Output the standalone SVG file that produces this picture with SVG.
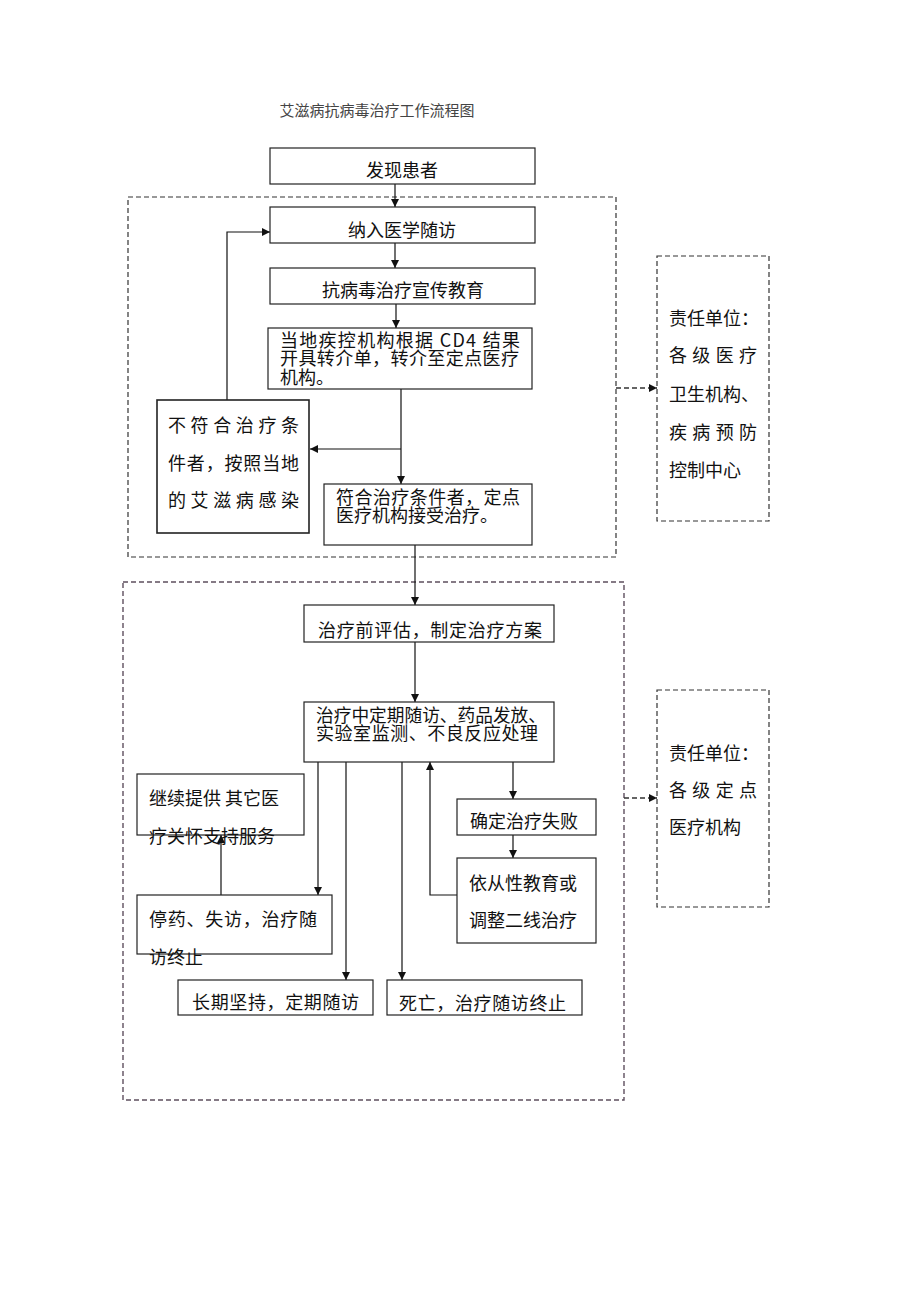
<svg xmlns="http://www.w3.org/2000/svg" width="920" height="1302" viewBox="0 0 920 1302">
<style>
  text { font-family: "Noto Sans CJK SC", "Noto Sans", sans-serif; font-size: 18px; fill: #111; }
  .title { font-size: 15px; fill: #444; }
  .box { fill: #fff; stroke: #222; stroke-width: 1.2; }
  .dbox { fill: none; stroke: #333; stroke-width: 1.2; stroke-dasharray: 5 3; }
  .dbox2 { fill: none; stroke: #5e4f5e; stroke-width: 1.4; stroke-dasharray: 5 3; }
  .ln { fill: none; stroke: #111; stroke-width: 1.2; }
  .dln { fill: none; stroke: #333; stroke-width: 1.4; stroke-dasharray: 5 3; }
  .c { text-anchor: middle; }
</style>
<defs>
  <marker id="ah" markerUnits="userSpaceOnUse" markerWidth="9" markerHeight="9" refX="8" refY="4" orient="auto">
    <path d="M0,0 L8,4 L0,8 z" fill="#111"/>
  </marker>
</defs>
<rect width="920" height="1302" fill="#fff"/>

<text class="title c" x="377" y="116">艾滋病抗病毒治疗工作流程图</text>

<g id="regions">
  <rect class="dbox" x="128" y="197" width="488" height="360"/>
  <rect class="dbox2" x="123" y="582" width="501" height="518"/>
</g>

<g id="connectors">
  <path class="ln" d="M395,184 V207" marker-end="url(#ah)"/>
  <path class="ln" d="M395,243 V268" marker-end="url(#ah)"/>
  <path class="ln" d="M396,304 V328" marker-end="url(#ah)"/>
  <path class="ln" d="M401,389 V484" marker-end="url(#ah)"/>
  <path class="ln" d="M401,449 H310" marker-end="url(#ah)"/>
  <path class="ln" d="M227,400 V232 H270" marker-end="url(#ah)"/>
  <path class="ln" d="M415,545 V605" marker-end="url(#ah)"/>
  <path class="ln" d="M415,642 V702" marker-end="url(#ah)"/>
  <path class="ln" d="M318,762 V895" marker-end="url(#ah)"/>
  <path class="ln" d="M346,762 V980" marker-end="url(#ah)"/>
  <path class="ln" d="M402,762 V980" marker-end="url(#ah)"/>
  <path class="ln" d="M457,895 H430 V762" marker-end="url(#ah)"/>
  <path class="ln" d="M513,762 V799" marker-end="url(#ah)"/>
  <path class="ln" d="M513,835 V858" marker-end="url(#ah)"/>
  <path class="ln" d="M221,895 V835" marker-end="url(#ah)"/>
  <path class="dln" d="M616,388 H657" marker-end="url(#ah)"/>
  <path class="dln" d="M624,798 H657" marker-end="url(#ah)"/>
</g>

<g id="n-faxian">
  <rect class="box" x="270" y="148" width="265" height="36"/>
  <text class="c" x="402" y="177">发现患者</text>
</g>
<g id="n-nariu">
  <rect class="box" x="270" y="207" width="265" height="36"/>
  <text class="c" x="402" y="237">纳入医学随访</text>
</g>
<g id="n-jiaoyu">
  <rect class="box" x="270" y="268" width="265" height="36"/>
  <text class="c" x="403" y="297">抗病毒治疗宣传教育</text>
</g>
<g id="n-zhuanjie">
  <rect class="box" x="268" y="328" width="264" height="61"/>
  <text x="280" y="347"><tspan x="280" y="347" textLength="240" lengthAdjust="spacing">当地疾控机构根据 CD4 结果</tspan><tspan x="280" y="365" textLength="239" lengthAdjust="spacing">开具转介单，转介至定点医疗</tspan><tspan x="280" y="384">机构。</tspan></text>
</g>
<g id="n-bufuhe">
  <rect class="box" x="157" y="400" width="152" height="133" style="stroke-width:1.6"/>
  <text x="168" y="432" textLength="131" lengthAdjust="spacing">不符合治疗条</text>
  <text x="168" y="470" textLength="131" lengthAdjust="spacing">件者，按照当地</text>
  <text x="168" y="507" textLength="131" lengthAdjust="spacing">的艾滋病感染</text>
</g>
<g id="n-fuhe">
  <rect class="box" x="324" y="484" width="208" height="61"/>
  <text x="336" y="504"><tspan x="336" y="504" textLength="184" lengthAdjust="spacing">符合治疗条件者，定点</tspan><tspan x="336" y="522">医疗机构接受治疗。</tspan></text>
</g>
<g id="n-resp1">
  <rect class="dbox" x="657" y="256" width="112" height="265"/>
  <text x="669" y="325">责任单位：</text>
  <text x="669" y="362" textLength="88" lengthAdjust="spacing">各级医疗</text>
  <text x="669" y="401">卫生机构、</text>
  <text x="669" y="439" textLength="88" lengthAdjust="spacing">疾病预防</text>
  <text x="669" y="477">控制中心</text>
</g>
<g id="n-pinggu">
  <rect class="box" x="304" y="605" width="250" height="37"/>
  <text x="318" y="637" textLength="224" lengthAdjust="spacing">治疗前评估，制定治疗方案</text>
</g>
<g id="n-suifang">
  <rect class="box" x="304" y="702" width="250" height="60"/>
  <text x="316" y="722"><tspan x="316" y="722" textLength="230" lengthAdjust="spacingAndGlyphs">治疗中定期随访、药品发放、</tspan><tspan x="316" y="740" textLength="222" lengthAdjust="spacing">实验室监测、不良反应处理</tspan></text>
</g>
<g id="n-jixu">
  <rect class="box" x="137" y="774" width="167" height="61"/>
  <text x="149" y="805">继续提供 其它医</text>
  <text x="149" y="843">疗关怀支持服务</text>
</g>
<g id="n-tingyao">
  <rect class="box" x="137" y="895" width="195" height="59"/>
  <text x="149" y="926" textLength="168" lengthAdjust="spacing">停药、失访，治疗随</text>
  <text x="149" y="964">访终止</text>
</g>
<g id="n-changqi">
  <rect class="box" x="178" y="980" width="195" height="35"/>
  <text x="192" y="1009" textLength="167" lengthAdjust="spacing">长期坚持，定期随访</text>
</g>
<g id="n-siwang">
  <rect class="box" x="387" y="980" width="195" height="35"/>
  <text x="399" y="1010" textLength="167" lengthAdjust="spacing">死亡，治疗随访终止</text>
</g>
<g id="n-shibai">
  <rect class="box" x="457" y="799" width="139" height="36"/>
  <text x="470" y="828">确定治疗失败</text>
</g>
<g id="n-yicong">
  <rect class="box" x="457" y="858" width="139" height="85"/>
  <text x="469" y="890">依从性教育或</text>
  <text x="469" y="927">调整二线治疗</text>
</g>
<g id="n-resp2">
  <rect class="dbox" x="657" y="690" width="112" height="217"/>
  <text x="669" y="760">责任单位：</text>
  <text x="669" y="797" textLength="88" lengthAdjust="spacing">各级定点</text>
  <text x="669" y="834">医疗机构</text>
</g>
</svg>
